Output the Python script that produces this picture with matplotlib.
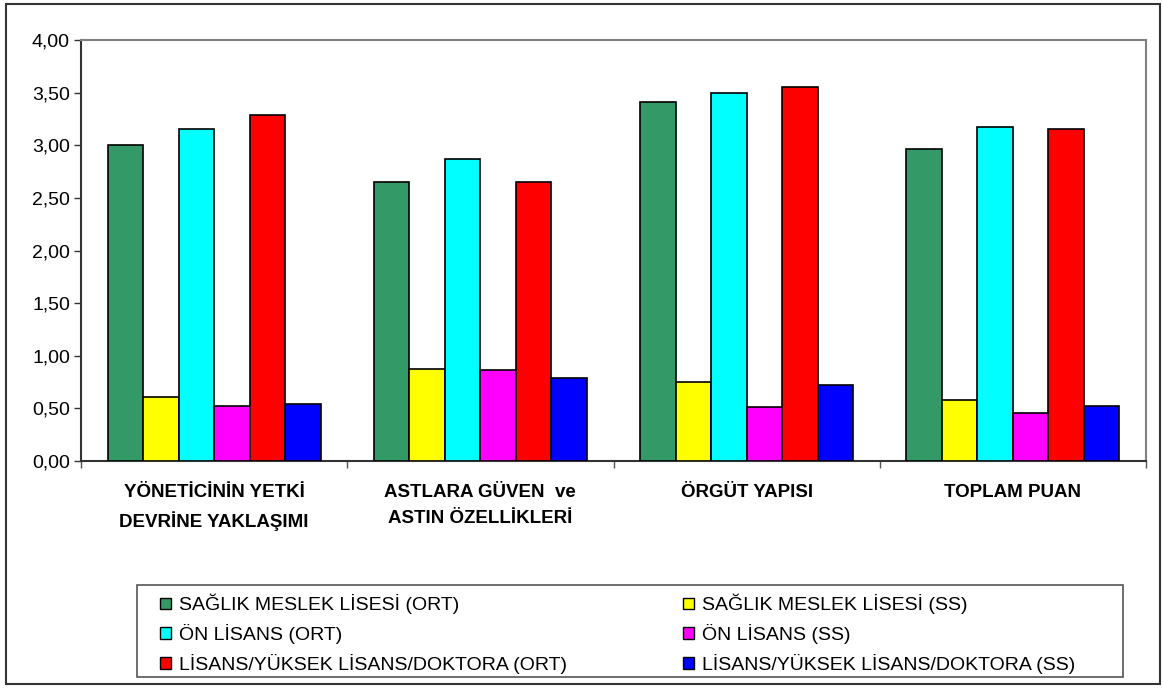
import matplotlib
matplotlib.use("Agg")
import matplotlib.pyplot as plt
from matplotlib.patches import Rectangle, Patch
import numpy as np

plt.rcParams['font.family'] = ['Liberation Sans', 'DejaVu Sans']

categories = ["YÖNETİCİNİN YETKİ\nDEVRİNE YAKLAŞIMI",
              "ASTLARA GÜVEN  ve\nASTIN ÖZELLİKLERİ",
              "ÖRGÜT YAPISI",
              "TOPLAM PUAN"]

series_names = ["SAĞLIK MESLEK LİSESİ (ORT)",
                "SAĞLIK MESLEK LİSESİ (SS)",
                "ÖN LİSANS (ORT)",
                "ÖN LİSANS (SS)",
                "LİSANS/YÜKSEK LİSANS/DOKTORA (ORT)",
                "LİSANS/YÜKSEK LİSANS/DOKTORA (SS)"]

saglik_ort = [3.00, 2.65, 3.41, 2.96]
saglik_ss = [0.61, 0.87, 0.75, 0.58]
onlisans_ort = [3.15, 2.87, 3.50, 3.17]
onlisans_ss = [0.52, 0.86, 0.51, 0.46]
lisans_ort = [3.29, 2.65, 3.55, 3.15]
lisans_ss = [0.54, 0.79, 0.72, 0.52]

series_values = [saglik_ort, saglik_ss, onlisans_ort, onlisans_ss, lisans_ort, lisans_ss]
colors = ["#339966", "#FFFF00", "#00FFFF", "#FF00FF", "#FF0000", "#0000FF"]

yticks = [0.0, 0.5, 1.0, 1.5, 2.0, 2.5, 3.0, 3.5, 4.0]
ytick_labels = ["0,00", "0,50", "1,00", "1,50", "2,00", "2,50", "3,00", "3,50", "4,00"]

W, H = 1162, 688
fig = plt.figure(figsize=(W / 100, H / 100), dpi=100)
fig.patch.set_facecolor("white")

# outer frame around the whole figure
fig.patches.append(Rectangle((6 / W, 4 / H), (W - 8) / W, (H - 8) / H,
                             transform=fig.transFigure, fill=False,
                             edgecolor="#333333", linewidth=1.5))

ax = fig.add_axes([81 / W, 1 - 461 / H, (1146 - 81) / W, (461 - 40) / H])

n = len(series_values)
x = np.arange(len(categories))
bw = 0.8 / n
for i, (vals, col) in enumerate(zip(series_values, colors)):
    ax.bar(x - 0.4 + bw * (i + 0.5), vals, width=bw, color=col,
           edgecolor="black", linewidth=1.2, zorder=3)

ax.set_xlim(-0.5, len(categories) - 0.5)
ax.set_ylim(0, 4)
ax.set_yticks(yticks)
ax.set_yticklabels(ytick_labels, fontsize=14)
ax.tick_params(axis="y", direction="out", length=5, width=1, color="#333333", pad=3)

ax.set_xticks(np.arange(len(categories) + 1) - 0.5, minor=False)
ax.set_xticklabels([])
ax.tick_params(axis="x", direction="out", length=5, width=1, color="#555555")
for xi, lab in zip(x, categories):
    ax.text(xi, -0.22, lab, ha="center", va="top", fontsize=13.5,
            fontweight="bold", linespacing=1.65,
            transform=ax.transData)

for s in ["top", "right"]:
    ax.spines[s].set_color("#808080")
    ax.spines[s].set_linewidth(1.5)
for s in ["left", "bottom"]:
    ax.spines[s].set_color("#333333")
    ax.spines[s].set_linewidth(1.5)

# legend box
fig.patches.append(Rectangle((137 / W, 1 - 677 / H), (1123 - 137) / W, (677 - 585) / H,
                             transform=fig.transFigure, fill=False,
                             edgecolor="#555555", linewidth=1.2))

handles = [Patch(facecolor=c, edgecolor="black", linewidth=1.0) for c in colors]
col_orders = [[0, 2, 4], [1, 3, 5]]
col_x = [160 / W, 683 / W]
for cx, order in zip(col_x, col_orders):
    leg = fig.legend([handles[k] for k in order], [series_names[k] for k in order],
                     loc="upper left", bbox_to_anchor=(cx, 1 - 594 / H),
                     frameon=False, fontsize=14, handlelength=0.55,
                     handleheight=0.55, handletextpad=0.45, labelspacing=0.5,
                     borderpad=0.0, borderaxespad=0.0)

fig.savefig("out.png", dpi=100)
